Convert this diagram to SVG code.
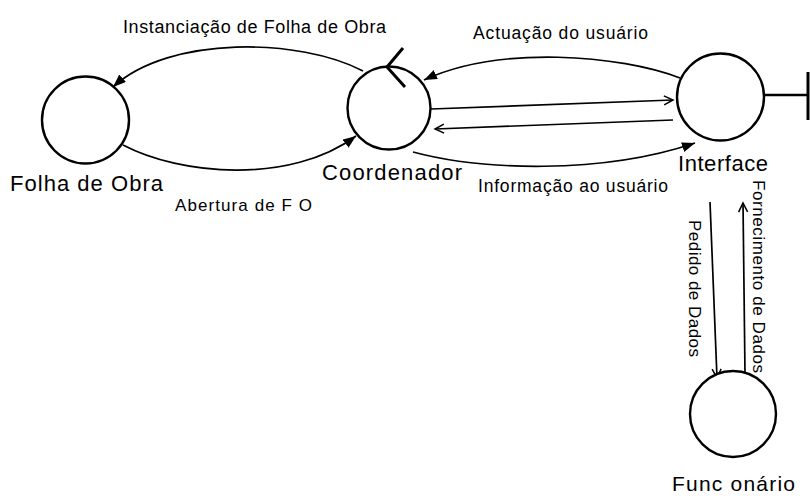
<svg xmlns="http://www.w3.org/2000/svg" width="810" height="500" viewBox="0 0 810 500">
<style>
.node{fill:#fff;stroke:#000;stroke-width:2.4}
.edge{fill:none;stroke:#000;stroke-width:1.7}
.lbl{font-family:"Liberation Sans",Arial,sans-serif;fill:#000}
</style>
<defs>
<marker id="fa" markerUnits="userSpaceOnUse" markerWidth="14" markerHeight="11" refX="13" refY="5" orient="auto">
<path d="M0,0 L13,5 L0,10 z" fill="#000"/>
</marker>
<marker id="oa" markerUnits="userSpaceOnUse" markerWidth="12" markerHeight="12" refX="10" refY="5" orient="auto">
<path d="M1,0.5 L10,5 L1,9.5" fill="none" stroke="#000" stroke-width="1.5"/>
</marker>
</defs>
<rect width="810" height="500" fill="#fff"/>
<g id="connectors">
<path class="edge" d="M363 71 C300 38,170 35,113 87" marker-end="url(#fa)"/>
<path class="edge" d="M123 145 C180 175,290 185,356 136" marker-end="url(#fa)"/>
<path class="edge" d="M680 78 C620 55,500 45,424 80" marker-end="url(#fa)"/>
<path class="edge" d="M413 152 C480 170,600 175,695 143" marker-end="url(#fa)"/>
<path class="edge" d="M431 109 L673 100" marker-end="url(#oa)"/>
<path class="edge" d="M673 120 L435 129" marker-end="url(#oa)"/>
<path class="edge" d="M710 202 L717 378" marker-end="url(#oa)"/>
<path class="edge" d="M745 373 L743 203" marker-end="url(#oa)"/>
<path class="edge" d="M764 95 L808 95" style="stroke-width:2.4"/>
<path class="edge" d="M808 72 L808 120" style="stroke-width:3"/>
</g>
<g class="lbl">
<text x="123" y="33" font-size="18" textLength="263">Instanciação de Folha de Obra</text>
<text x="473" y="39" font-size="17.5" textLength="175">Actuação do usuário</text>
<text x="175" y="211" font-size="17" textLength="137">Abertura de F O</text>
<text x="478" y="192" font-size="17.5" textLength="190">Informação ao usuário</text>
<text transform="translate(689,220) rotate(90)" font-size="17" textLength="137">Pedido de Dados</text>
<text transform="translate(753,180) rotate(90)" font-size="17" textLength="193">Fornecimento de Dados</text>
</g>
<g id="folha">
<circle class="node" cx="85.5" cy="120" r="43.5"/>
<text class="lbl" x="10" y="191" font-size="22" textLength="153">Folha de Obra</text>
</g>
<g id="coordenador">
<circle class="node" cx="389" cy="108" r="41.5"/>
<path d="M403 48 L387 67 L405 87" fill="none" stroke="#000" stroke-width="3"/>
<text class="lbl" x="322" y="180" font-size="22" textLength="140">Coordenador</text>
</g>
<g id="interface">
<circle class="node" cx="720.5" cy="97" r="43.5"/>
<text class="lbl" x="678" y="171" font-size="22" textLength="90">Interface</text>
</g>
<g id="funcionario">
<circle class="node" cx="733" cy="414" r="43"/>
<text class="lbl" x="672" y="491" font-size="21" textLength="123">Func onário</text>
</g>
</svg>
